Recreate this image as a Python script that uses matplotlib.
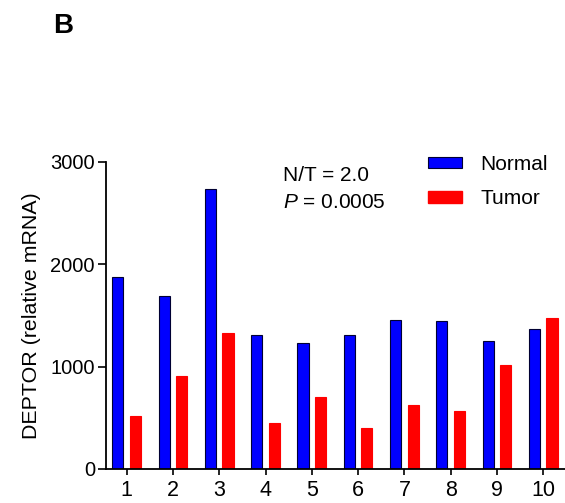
import numpy as np
import matplotlib
matplotlib.use('Agg')
import matplotlib.pyplot as plt
from matplotlib.patches import Patch

plt.rcParams['font.family'] = ['Liberation Sans', 'DejaVu Sans']
plt.rcParams['mathtext.fontset'] = 'custom'
plt.rcParams['mathtext.it'] = 'Liberation Sans:italic'
plt.rcParams['mathtext.rm'] = 'Liberation Sans'

patients = [1, 2, 3, 4, 5, 6, 7, 8, 9, 10]
normal = [1875, 1686, 2730, 1304, 1229, 1304, 1451, 1441, 1246, 1370]
tumor = [521, 903, 1327, 446, 707, 397, 626, 564, 1020, 1474]

x = np.array(patients)
width = 0.24
offset = 0.19

fig = plt.figure(figsize=(5.65, 5.03), dpi=100)
ax = fig.add_axes([0.1876, 0.0676, 0.8124, 0.611])

ax.bar(x - offset, normal, width, color='#0000ff', edgecolor='#000033', linewidth=0.8, label='Normal')
ax.bar(x + offset, tumor, width, color='#ff0000', edgecolor='#ff0000', linewidth=0.8, label='Tumor')

ax.set_xlim(0.553, 10.47)
ax.set_ylim(0, 3000)
ax.set_yticks([0, 1000, 2000, 3000])
ax.set_xticks(patients)

for s in ['top', 'right']:
    ax.spines[s].set_visible(False)
for s in ['left', 'bottom']:
    ax.spines[s].set_linewidth(1.3)

ax.tick_params(axis='y', length=6, width=1.2, pad=2, labelsize=14.5)
ax.tick_params(axis='x', length=4, width=1.2, pad=4, labelsize=15.5)

ax.set_ylabel('DEPTOR (relative mRNA)', fontsize=15.4, labelpad=7)

fig.text(0.501, 0.640, 'N/T = 2.0', fontsize=15, va='baseline')
fig.text(0.501, 0.5865, r'$\it{P}$ = 0.0005', fontsize=15, va='baseline')

handles = [Patch(facecolor='#0000ff', edgecolor='#000033', linewidth=0.8),
           Patch(facecolor='#ff0000', edgecolor='#ff0000')]
fig.legend(handles, ['Normal', 'Tumor'], loc='upper left',
           bbox_to_anchor=(0.7575, 0.692), bbox_transform=fig.transFigure,
           frameon=False, fontsize=15, borderpad=0, borderaxespad=0,
           handlelength=1.63, handleheight=0.48, handletextpad=0.87,
           labelspacing=0.73)

fig.text(0.094, 0.934, 'B', fontsize=20, fontweight='bold', va='baseline')

fig.savefig('out.png', dpi=100)
